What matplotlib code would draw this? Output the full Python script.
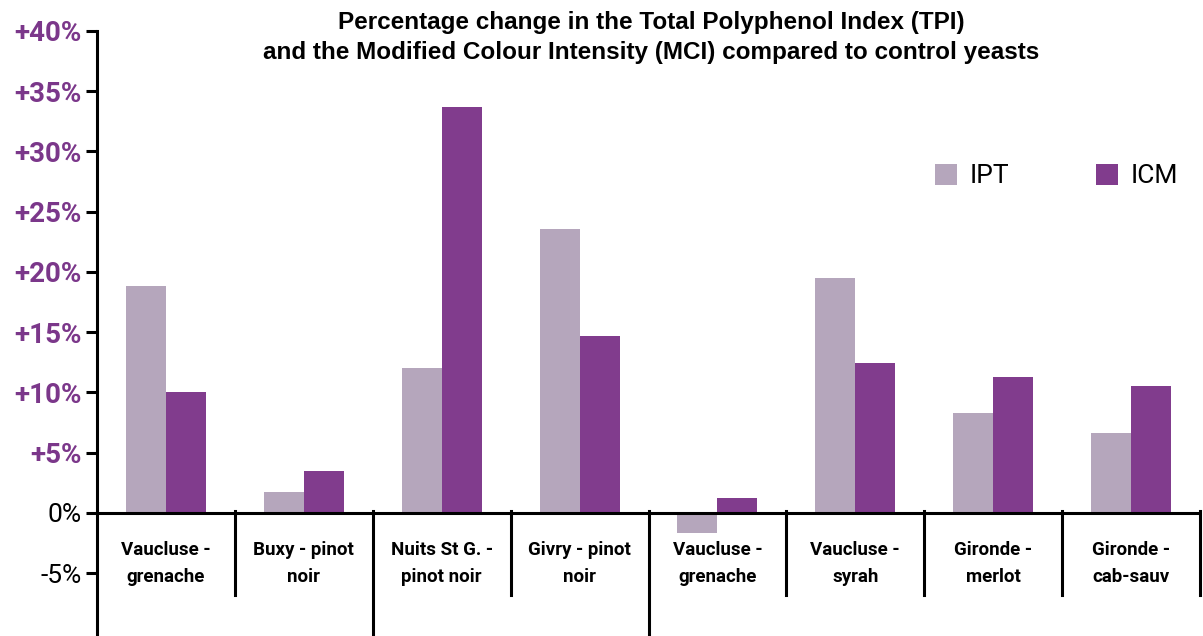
import matplotlib
matplotlib.use("Agg")
import matplotlib.pyplot as plt
from matplotlib import font_manager

categories = ["Vaucluse -\ngrenache", "Buxy - pinot\nnoir", "Nuits St G. -\npinot noir",
              "Givry - pinot\nnoir", "Vaucluse -\ngrenache", "Vaucluse -\nsyrah",
              "Gironde -\nmerlot", "Gironde -\ncab-sauv"]
ipt = [18.8, 1.75, 12.0, 23.6, -1.65, 19.5, 8.3, 6.6]
icm = [10.0, 3.5, 33.7, 14.7, 1.25, 12.45, 11.3, 10.5]
group_edges = [-0.5, 1.5, 3.5]
y_ticks = [-5, 0, 5, 10, 15, 20, 25, 30, 35, 40]

c_ipt = "#b5a6bc"
c_icm = "#813c8d"
c_tick = "#7b378a"

names = {f.name for f in font_manager.fontManager.ttflist}
cond = "DejaVu Sans Condensed" if "DejaVu Sans Condensed" in names else "Roboto"

fig = plt.figure(figsize=(12.03, 6.36), dpi=100)
ax = fig.add_axes([97 / 1203, 0.0, 1103 / 1203, 0.9513])

x = list(range(len(categories)))
w = 0.29
ax.bar([i - w for i in x], ipt, width=w, align="edge", color=c_ipt, label="IPT")
ax.bar(x, icm, width=w, align="edge", color=c_icm, label="ICM")

ax.set_xlim(-0.5, len(categories) - 0.5)
ax.set_ylim(-10.21, 40)

for s in ["top", "right", "bottom"]:
    ax.spines[s].set_visible(False)
ax.spines["left"].set_linewidth(2.2)
ax.axhline(0, color="black", linewidth=2.2, zorder=3)

# category dividers: short ones, and long ones for groups
for i in range(len(categories) + 1):
    xe = i - 0.5
    if xe in group_edges:
        continue
    ax.plot([xe, xe], [0.15, -6.8], color="black", linewidth=2.2, clip_on=False)
for xe in group_edges[1:]:
    ax.plot([xe, xe], [0.15, -10.21], color="black", linewidth=2.2, clip_on=False)

ax.set_xticks([])
ax.set_yticks(y_ticks)
ax.set_yticklabels([("+%d%%" % v) if v > 0 else ("%d%%" % v) for v in y_ticks])
ax.tick_params(axis="y", length=8, width=2.2, pad=3)
for v, lab in zip(y_ticks, ax.get_yticklabels()):
    lab.set_family(cond)
    if v > 0:
        lab.set_fontsize(20)
        lab.set_color(c_tick)
        lab.set_fontweight("bold")
    else:
        lab.set_fontsize(19)
        lab.set_color("black")

for i, name in enumerate(categories):
    ax.text(i, -4.2, name, ha="center", va="center", fontsize=13.5, fontweight="bold",
            family=cond, linespacing=1.6)

leg = fig.legend(*ax.get_legend_handles_labels(), loc="center left",
                 bbox_to_anchor=(935 / 1203, 1 - 176 / 636), ncol=2, frameon=False,
                 borderpad=0, borderaxespad=0,
                 handlelength=0.85, handleheight=0.85, columnspacing=3.3, handletextpad=0.45,
                 prop={"family": cond, "size": 19})

fig.text(0.541, 0.941, "Percentage change in the Total Polyphenol Index (TPI)\n"
         "and the Modified Colour Intensity (MCI) compared to control yeasts",
         ha="center", va="center", fontsize=17.5, fontweight="bold",
         family="Liberation Sans", linespacing=1.4)

fig.savefig("out.png", dpi=100)
